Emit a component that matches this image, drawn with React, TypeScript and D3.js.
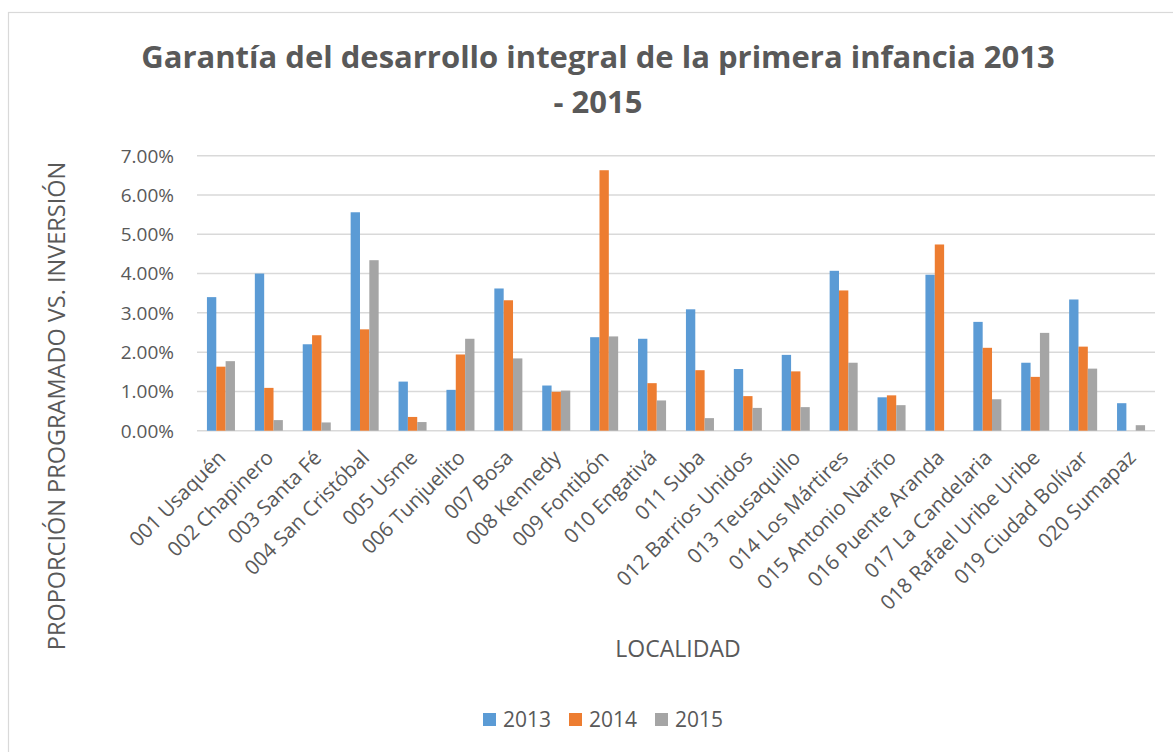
import React from 'react';
import * as d3 from 'd3';

const localidades = [
  '001 Usaquén', '002 Chapinero', '003 Santa Fé', '004 San Cristóbal', '005 Usme',
  '006 Tunjuelito', '007 Bosa', '008 Kennedy', '009 Fontibón', '010 Engativá',
  '011 Suba', '012 Barrios Unidos', '013 Teusaquillo', '014 Los Mártires',
  '015 Antonio Nariño', '016 Puente Aranda', '017 La Candelaria',
  '018 Rafael Uribe Uribe', '019 Ciudad Bolívar', '020 Sumapaz',
];

// percentages
const v2013 = [3.40, 4.00, 2.20, 5.56, 1.25, 1.04, 3.62, 1.15, 2.38, 2.34, 3.09, 1.57, 1.93, 4.07, 0.85, 3.97, 2.77, 1.73, 3.34, 0.70];
const v2014 = [1.63, 1.09, 2.43, 2.58, 0.35, 1.94, 3.32, 0.99, 6.63, 1.21, 1.54, 0.88, 1.51, 3.57, 0.90, 4.74, 2.11, 1.37, 2.14, 0];
const v2015 = [1.77, 0.27, 0.21, 4.34, 0.22, 2.34, 1.84, 1.02, 2.40, 0.77, 0.32, 0.58, 0.60, 1.73, 0.65, 0, 0.80, 2.49, 1.58, 0.14];

const years = ['2013', '2014', '2015'];
const colors = ['#5b9bd5', '#ed7d31', '#a5a5a5'];
const yTicks = [0, 0.01, 0.02, 0.03, 0.04, 0.05, 0.06, 0.07];

const W = 1173;
const H = 752;
const FONT = '"Open Sans", sans-serif';
const TEXT = '#595959';

const App: React.FC = () => {
  const series = [v2013, v2014, v2015];
  const plot = { left: 197, right: 1155, top: 155.7, bottom: 430.7 };

  const x0 = d3.scaleBand<string>()
    .domain(localidades)
    .range([plot.left, plot.right])
    .paddingInner(0.415)
    .paddingOuter(0.2075);

  const x1 = d3.scaleBand<string>()
    .domain(years)
    .range([0, x0.bandwidth()]);

  const y = d3.scaleLinear()
    .domain([0, 0.07])
    .range([plot.bottom, plot.top]);

  const fmt = d3.format('.2%');

  return (
    <svg width={W} height={H} style={{ position: 'absolute', left: 0, top: 0, background: '#fff' }}>
      <rect x={8.5} y={12.5} width={1200} height={800} fill="#fff" stroke="#d9d9d9" strokeWidth={1.2} />

      <text x={598} y={68} textAnchor="middle" fontFamily={FONT} fontWeight="bold" fontSize={31} fill={TEXT}>
        Garantía del desarrollo integral de la primera infancia 2013
      </text>
      <text x={598} y={113} textAnchor="middle" fontFamily={FONT} fontWeight="bold" fontSize={31} fill={TEXT}>
        - 2015
      </text>

      {yTicks.map(t => (
        <g key={t}>
          <line x1={plot.left} x2={plot.right} y1={y(t)} y2={y(t)} stroke="#d9d9d9" strokeWidth={1.5} />
          <text x={174} y={y(t)} dy="0.36em" textAnchor="end" fontFamily={FONT} fontSize={19} fill={TEXT}>
            {fmt(t)}
          </text>
        </g>
      ))}

      {localidades.map((loc, i) => (
        <g key={loc} transform={`translate(${x0(loc)},0)`}>
          {series.map((s, j) => s[i] > 0 ? (
            <rect
              key={years[j]}
              x={x1(years[j])}
              y={y(s[i] / 100)}
              width={x1.bandwidth()}
              height={y(0) - y(s[i] / 100)}
              fill={colors[j]}
            />
          ) : null)}
        </g>
      ))}

      {localidades.map(loc => {
        const cx = (x0(loc) as number) + x0.bandwidth() / 2;
        return (
          <text
            key={loc}
            transform={`translate(${cx + 6},459) rotate(-45)`}
            textAnchor="end"
            fontFamily={FONT}
            fontSize={20.5}
            fill={TEXT}
          >
            {loc}
          </text>
        );
      })}

      <text
        transform={`translate(65,406) rotate(-90)`}
        textAnchor="middle"
        fontFamily={FONT}
        fontSize={23.5}
        fill={TEXT}
      >
        PROPORCIÓN PROGRAMADO VS. INVERSIÓN
      </text>

      <text x={678} y={657} textAnchor="middle" fontFamily={FONT} fontSize={23} fill={TEXT}>
        LOCALIDAD
      </text>

      {years.map((yr, j) => (
        <g key={yr} transform={`translate(${483 + j * 86},713)`}>
          <rect width={13} height={13} fill={colors[j]} />
          <text x={20} y={14} fontFamily={FONT} fontSize={21} fill={TEXT}>{yr}</text>
        </g>
      ))}
    </svg>
  );
};

export default App;
